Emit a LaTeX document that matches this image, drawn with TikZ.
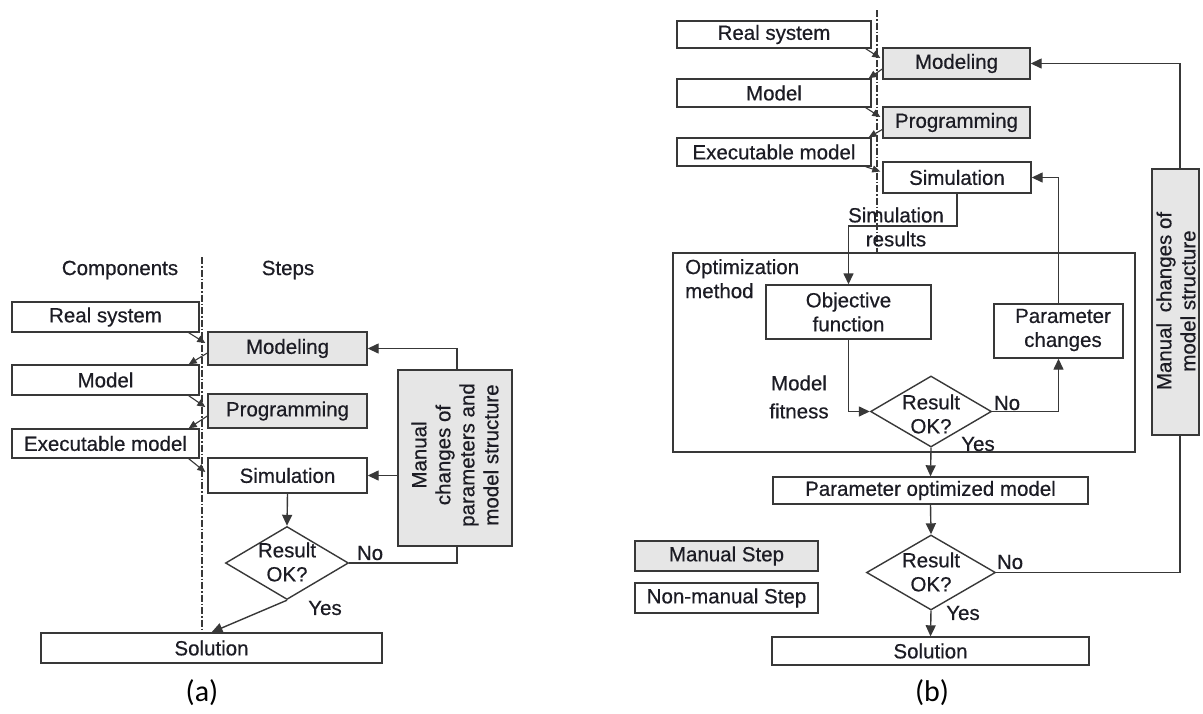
\documentclass[tikz,border=0pt]{standalone}
\usepackage{fontspec}
\setmainfont{Liberation Sans}[FakeBold=0.5]
\newfontfamily\capfont{Carlito}
\usetikzlibrary{arrows.meta,shapes.geometric}
\definecolor{lc}{HTML}{383838}
\definecolor{tc}{HTML}{1C1C24}
\definecolor{mf}{HTML}{E6E6E6}
\newcommand\lblfont{\fontsize{20.5}{24}\selectfont}
\tikzset{
  lbl/.style={text=tc, font=\lblfont, inner sep=0pt, align=center},
  box/.style={lbl, draw=lc, line width=1.4pt, fill=white},
  manual/.style={box, fill=mf},
  dec/.style={diamond, draw=lc, line width=1.4pt, fill=white, inner sep=0pt},
  conn/.style={draw=lc, line width=1.4pt},
  arr/.style={conn, -{Triangle[length=11pt,width=10pt]}},
  sarr/.style={draw=lc, line width=1.1pt, -{Triangle[length=8pt,width=7pt]}},
  axis/.style={draw=lc, line width=1.1pt, dash pattern=on 7pt off 2pt on 1.5pt off 2pt},
  panelcap/.style={text=black, font=\capfont\fontsize{30}{34}\selectfont, inner sep=0pt}
}
\begin{document}
\begin{tikzpicture}[x=1pt,y=-1pt]
\fill[white] (0,0) rectangle (1203,713);
\useasboundingbox (0,0) rectangle (1203,713);

% ---------------- (a) ----------------
\node[lbl] (hcompA) at (120,270) {Components};
\node[lbl] (hstepA) at (288,270) {Steps};
\coordinate (axtopA) at (202,257);

\node[box, minimum width=187pt, minimum height=30pt] (realA)  at (105.5,317)   {Real system};
\node[box, minimum width=187pt, minimum height=30pt] (modelA) at (105.5,380)   {Model};
\node[box, minimum width=187pt, minimum height=29pt] (execA)  at (105.5,443.5) {Executable model};
\node[manual, minimum width=159pt, minimum height=33pt] (modA)  at (287.5,348.5) {Modeling};
\node[manual, minimum width=159pt, minimum height=34pt] (progA) at (287.5,411)   {Programming};
\node[box, minimum width=159pt, minimum height=35pt] (simA)     at (287.5,475.5) {Simulation};
\node[dec, minimum width=123pt, minimum height=73pt] (decA) at (287,563) {};
\node[lbl] (decAt) at (287,562) {Result\\OK?};
\node[box, minimum width=341pt, minimum height=30pt] (soluA) at (211.5,648) {Solution};
\node[manual, minimum width=114pt, minimum height=176pt] (manA) at (455,458) {};
\node[lbl, rotate=90, align=center] (manAt) at (455,455)
  {Manual\\changes of\\parameters and\\model structure};

\draw[axis] (axtopA) -- (axtopA |- soluA.north);

\draw[sarr] ([xshift=-11pt]realA.south east) -- ([xshift=-2pt,yshift=5.5pt]modA.west);
\draw[sarr] ([yshift=-4.5pt]modA.west) -- ([xshift=-11pt]modelA.north east);
\draw[sarr] ([xshift=-11pt]modelA.south east) -- ([xshift=-2pt,yshift=4pt]progA.west);
\draw[sarr] ([yshift=-5pt]progA.west) -- ([xshift=-11pt]execA.north east);
\draw[sarr] ([xshift=-11pt]execA.south east) -- ([xshift=-2pt,yshift=3.5pt]simA.west);

\draw[arr] (simA.south) -- (decA.north);
\draw[arr] (decA.south) -- (soluA.north);
\draw[arr] ([xshift=2pt]manA.north) |- (modA.east);
\draw[arr] (manA.west |- simA.east) -- (simA.east);
\draw[conn] (decA.east) -| ([xshift=2pt]manA.south);
\node[lbl] (noA)  at (370,553) {No};
\node[lbl] (yesA) at (325,608) {Yes};

\node[panelcap] (capA) at (202,693) {(a)};

% ---------------- (b) ----------------
\coordinate (axtopB) at (877,10);
\node[box, minimum width=194pt, minimum height=27pt] (realB)  at (774,34.5) {Real system};
\node[box, minimum width=194pt, minimum height=28pt] (modelB) at (774,93)   {Model};
\node[box, minimum width=194pt, minimum height=28pt] (execB)  at (774,152)  {Executable model};
\node[manual, minimum width=147pt, minimum height=31pt] (modB)  at (956.5,63.5)  {Modeling};
\node[manual, minimum width=147pt, minimum height=31pt] (progB) at (956.5,122.5) {Programming};
\node[box, minimum width=148pt, minimum height=31pt] (simB)     at (957,177.5)   {Simulation};

\node[draw=lc, line width=1.4pt, minimum width=462pt, minimum height=199pt, inner sep=0pt] (optB) at (904,352.5) {};
\draw[axis] (axtopB) -- (axtopB |- optB.north);

\node[lbl] (simres) at (896,227) {Simulation\\results};
\node[lbl, align=left, anchor=north west] (optlbl) at (685,259) {Optimization\\method};
\node[box, minimum width=165pt, minimum height=54pt] (objB) at (848.5,312) {Objective\\function};
\node[box, minimum width=129pt, minimum height=54pt] (parB) at (1058.5,331) {};
\node[lbl] (parBt) at (1063,330) {Parameter\\changes};
\node[dec, minimum width=121pt, minimum height=71pt] (decB1) at (931,411.5) {};
\node[lbl] (decB1t) at (931,414) {Result\\OK?};
\node[lbl] (fitB) at (799,397) {Model\\[4pt]fitness};
\node[lbl] (noB1)  at (1007,403) {No};
\node[lbl] (yesB1) at (978,444) {Yes};

\node[box, minimum width=315pt, minimum height=27pt] (pomB) at (930.5,490.5) {Parameter optimized model};
\node[dec, minimum width=129pt, minimum height=75pt] (decB2) at (931,572.5) {};
\node[lbl] (decB2t) at (931,572) {Result\\OK?};
\node[lbl] (noB2)  at (1010,562) {No};
\node[lbl] (yesB2) at (963,613) {Yes};
\node[box, minimum width=317pt, minimum height=28pt] (solB) at (930.5,651) {Solution};

\node[manual, minimum width=183pt, minimum height=30pt] (legM) at (726.5,556) {Manual Step};
\node[box, minimum width=183pt, minimum height=30pt] (legN) at (726.5,598) {Non-manual Step};

\node[manual, minimum width=47pt, minimum height=266pt] (manB) at (1175.5,302) {};
\node[lbl, rotate=90] (manBt) at (1176,301) {Manual\hspace{5pt} changes of\\model structure};

\draw[sarr] ([xshift=-6pt]realB.south east) -- ([xshift=-2pt,yshift=5.5pt]modB.west);
\draw[sarr] ([yshift=-5.5pt]modB.west) -- ([xshift=-3pt]modelB.north east);
\draw[sarr] ([xshift=-6pt]modelB.south east) -- ([xshift=-2pt,yshift=5.5pt]progB.west);
\draw[sarr] ([yshift=-7pt]progB.west) -- ([xshift=-3pt]execB.north east);
\draw[sarr] ([xshift=-6pt]execB.south east) -- ([xshift=-2pt,yshift=6pt]simB.west);

\coordinate (srturn) at (957,226);
\draw[arr] (simB.south) -- (srturn) -| (objB.north);
\draw[arr] (parB.north) |- (simB.east);
\draw[arr] (objB.south) |- (decB1.west);
\draw[arr] (decB1.east) -| (parB.south);
\draw[arr] (decB1.south) -- (pomB.north);
\draw[arr] (pomB.south) -- (decB2.north);
\draw[arr] (decB2.south) -- (solB.north);
\draw[arr] ([xshift=4.5pt]manB.north) |- (modB.east);
\draw[conn] (decB2.east) -| ([xshift=4.5pt]manB.south);

\node[panelcap] (capB) at (932,693) {(b)};
\end{tikzpicture}
\end{document}
